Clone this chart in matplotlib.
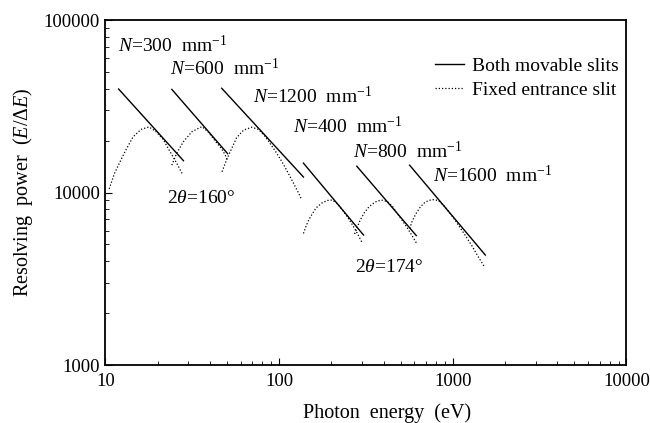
"""
Resolving power vs photon energy for the six gratings, both slits movable vs fixed entrance slit.
Writes out.png.
"""

import matplotlib

matplotlib.use("Agg")
import matplotlib.pyplot as plt
from matplotlib.ticker import FixedLocator, FixedFormatter, LogLocator, NullFormatter

plt.rcParams["font.family"] = ["Liberation Serif", "DejaVu Serif"]
plt.rcParams["mathtext.fontset"] = "custom"
plt.rcParams["mathtext.rm"] = "Liberation Serif"
plt.rcParams["mathtext.it"] = "Liberation Serif:italic"
plt.rcParams["mathtext.bf"] = "Liberation Serif:bold"

# both movable slits: straight segments (start, end)
solid_300_e = [11.9, 28.1]
solid_300_r = [39800, 15300]
solid_600_e = [24.1, 50.5]
solid_600_r = [39600, 16800]
solid_1200_e = [46.7, 138]
solid_1200_r = [40200, 12300]
solid_400_e = [138, 306]
solid_400_r = [14800, 5670]
solid_800_e = [280, 616]
solid_800_r = [14200, 5630]
solid_1600_e = [564, 1539]
solid_1600_r = [14400, 4340]

# fixed entrance slit
dot_300_e = [10.5, 11.3, 12.1, 13.0, 14.4, 16.0, 17.8, 19.5, 21.5, 23.5, 25.7, 27.6]
dot_300_r = [10500, 13000, 15000, 17400, 21000, 23200, 24000, 22600, 20300, 17300, 14800, 12900]
dot_600_e = [24.1, 25.7, 28.1, 31.4, 35.9, 39.1, 42.8, 46.7, 48.9, 50.5]
dot_600_r = [14400, 16900, 19700, 22500, 24100, 22400, 19900, 17900, 16500, 15200]
dot_1200_e = [46.9, 49.5, 52.2, 56.9, 62.4, 69.4, 76.2, 83.1, 88.8, 96.1, 103.7, 111.2, 118.4, 127.0, 135.1]
dot_1200_r = [13200, 15200, 17200, 20800, 23000, 23900, 23200, 21100, 19200, 17100, 15100, 13300, 11800, 10300, 9050]
dot_400_e = [138, 143, 148, 155, 163, 176, 189, 202, 216, 234, 253, 271, 285, 301]
dot_400_r = [5790, 6400, 6930, 7510, 8130, 8690, 8990, 9050, 8630, 7810, 6970, 6230, 5670, 5100]
dot_800_e = [272, 282, 293, 309, 330, 358, 387, 419, 448, 479, 512, 547, 584, 620]
dot_800_r = [5750, 6310, 6930, 7610, 8300, 8810, 9050, 8870, 8350, 7560, 6880, 6230, 5600, 5060]
dot_1600_e = [565, 584, 612, 650, 694, 757, 825, 893, 955, 1020, 1105, 1196, 1296, 1403, 1529]
dot_1600_r = [6180, 6840, 7510, 8240, 8810, 9110, 8990, 8350, 7660, 7020, 6230, 5520, 4860, 4230, 3680]

x_ticks = [10, 100, 1000, 10000]
x_tick_labels = ["10", "100", "1000", "10000"]
y_ticks = [1000, 10000, 100000]
y_tick_labels = ["1000", "10000", "100000"]

grating_labels = [
    (r"$N$=300  $\mathrm{mm}^{-1}$", 0.024, 0.907),
    (r"$N$=600  $\mathrm{mm}^{-1}$", 0.124, 0.841),
    (r"$N$=1200  $\mathrm{mm}^{-1}$", 0.283, 0.760),
    (r"$N$=400  $\mathrm{mm}^{-1}$", 0.360, 0.672),
    (r"$N$=800  $\mathrm{mm}^{-1}$", 0.476, 0.600),
    (r"$N$=1600  $\mathrm{mm}^{-1}$", 0.629, 0.531),
    (r"2$\theta$=160°", 0.1175, 0.470),
    (r"2$\theta$=174°", 0.479, 0.270),
]

solids = [
    (solid_300_e, solid_300_r),
    (solid_600_e, solid_600_r),
    (solid_1200_e, solid_1200_r),
    (solid_400_e, solid_400_r),
    (solid_800_e, solid_800_r),
    (solid_1600_e, solid_1600_r),
]
dots = [
    (dot_300_e, dot_300_r),
    (dot_600_e, dot_600_r),
    (dot_1200_e, dot_1200_r),
    (dot_400_e, dot_400_r),
    (dot_800_e, dot_800_r),
    (dot_1600_e, dot_1600_r),
]

fig = plt.figure(figsize=(6.5, 4.23), dpi=100)
ax = fig.add_axes([0.1623, 0.1371, 0.8015, 0.8156])

dot_style = (0, (1.0, 1.6))
for i, (e, r) in enumerate(solids):
    ax.plot(e, r, color="black", lw=1.0, label="Both movable slits" if i == 0 else None)
for i, (e, r) in enumerate(dots):
    ax.plot(e, r, color="black", lw=0.9, linestyle=dot_style,
            label="Fixed entrance slit" if i == 0 else None)

ax.set_xscale("log")
ax.set_yscale("log")
ax.set_xlim(10, 10000)
ax.set_ylim(1000, 100000)

ax.xaxis.set_major_locator(FixedLocator(x_ticks))
ax.xaxis.set_major_formatter(FixedFormatter(x_tick_labels))
ax.yaxis.set_major_locator(FixedLocator(y_ticks))
ax.yaxis.set_major_formatter(FixedFormatter(y_tick_labels))
for axis in (ax.xaxis, ax.yaxis):
    axis.set_minor_locator(LogLocator(base=10, subs=range(2, 10)))
    axis.set_minor_formatter(NullFormatter())

ax.tick_params(which="major", direction="in", length=5, width=0.8, labelsize=13.5, pad=6)
ax.tick_params(which="minor", direction="in", length=3, width=0.6)
ax.tick_params(axis="y", which="major", pad=4)
for spine in ax.spines.values():
    spine.set_linewidth(1.3)

ax.set_xlabel("Photon  energy  (eV)", fontsize=14.5)
ax.xaxis.set_label_coords(0.54, -0.112)
ax.set_ylabel(r"Resolving  power  ($E/\mathit{\Delta}E$)", fontsize=14.5)
ax.yaxis.set_label_coords(-0.135, 0.5)

for text, tx, ty in grating_labels:
    ax.text(tx, ty, text, transform=ax.transAxes, fontsize=14, ha="left", va="baseline")

ax.legend(loc="upper right", bbox_to_anchor=(1.008, 0.925), frameon=False, fontsize=14,
          handlelength=1.5, handletextpad=0.4, labelspacing=0.3, borderaxespad=0.2)

fig.savefig("out.png", dpi=100)
plt.close(fig)
